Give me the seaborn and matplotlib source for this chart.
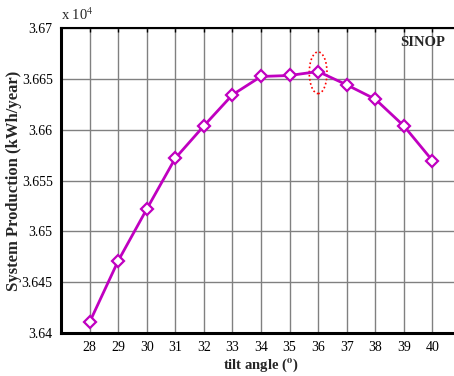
import matplotlib
matplotlib.use("Agg")
import matplotlib.pyplot as plt
from matplotlib.patches import Ellipse
import seaborn as sns
import pandas as pd

tilt_angle = [28, 29, 30, 31, 32, 33, 34, 35, 36, 37, 38, 39, 40]
production_kwh = [36410.5, 36470.9, 36521.8, 36571.9, 36603.7, 36634.3, 36652.3,
                  36653.3, 36657.2, 36644.1, 36630.0, 36603.7, 36569.6]
y_ticks = [3.64, 3.645, 3.65, 3.655, 3.66, 3.665, 3.67]
y_tick_labels = ["3.64", "3.645", "3.65", "3.655", "3.66", "3.665", "3.67"]

df = pd.DataFrame({"tilt": tilt_angle, "prod": [v / 1e4 for v in production_kwh]})

sns.set_style("white")
plt.rcParams["font.family"] = ["Liberation Serif", "DejaVu Serif"]
plt.rcParams["mathtext.fontset"] = "stix"

fig = plt.figure(figsize=(4.54, 3.76), dpi=100)
ax = fig.add_axes([61 / 454, 43 / 376, 400 / 454, 305 / 376])

sns.lineplot(data=df, x="tilt", y="prod", ax=ax, color="#C000C0", linewidth=2,
             marker="D", markersize=6, markerfacecolor="white",
             markeredgecolor="#C000C0", markeredgewidth=1.6)

ax.set_xlim(27, 41)
ax.set_ylim(3.64, 3.67)
ax.set_xticks(tilt_angle)
ax.set_xticklabels([str(t) for t in tilt_angle], fontsize=10)
ax.set_yticks(y_ticks)
ax.set_yticklabels(y_tick_labels, fontsize=10)
ax.grid(True, color="#808080", linewidth=1)
ax.set_axisbelow(True)
ax.tick_params(direction="in", length=3, width=1, colors="black", pad=6, top=True)
ax.tick_params(axis="x", labeltop=False)

for side in ["left", "bottom"]:
    ax.spines[side].set_linewidth(2.2)
    ax.spines[side].set_color("black")
ax.spines["top"].set_linewidth(1.5)
ax.spines["top"].set_color("black")
ax.spines["right"].set_visible(False)

ax.set_xlabel(r"tilt angle ($^{\mathbf{o}}$)", fontsize=10.5, fontweight="bold", labelpad=2)
ax.set_ylabel("System Production (kWh/year)", fontsize=12, fontweight="bold")
ax.yaxis.set_label_coords(-0.0975, 0.5)

ell = Ellipse((36, 3.6656), width=0.62, height=0.0041, fill=False,
              edgecolor="red", linestyle=(0, (1, 1.5)), linewidth=1.2)
ax.add_patch(ell)

ax.text(0.0, 1.015, r"x 10$^{4}$", transform=ax.transAxes, fontsize=10.5, ha="left", va="bottom")
ax.text(0.905, 0.954, "SINOP", transform=ax.transAxes, fontsize=10.5,
        fontweight="bold", ha="center", va="center")

fig.savefig("out.png", dpi=100)
